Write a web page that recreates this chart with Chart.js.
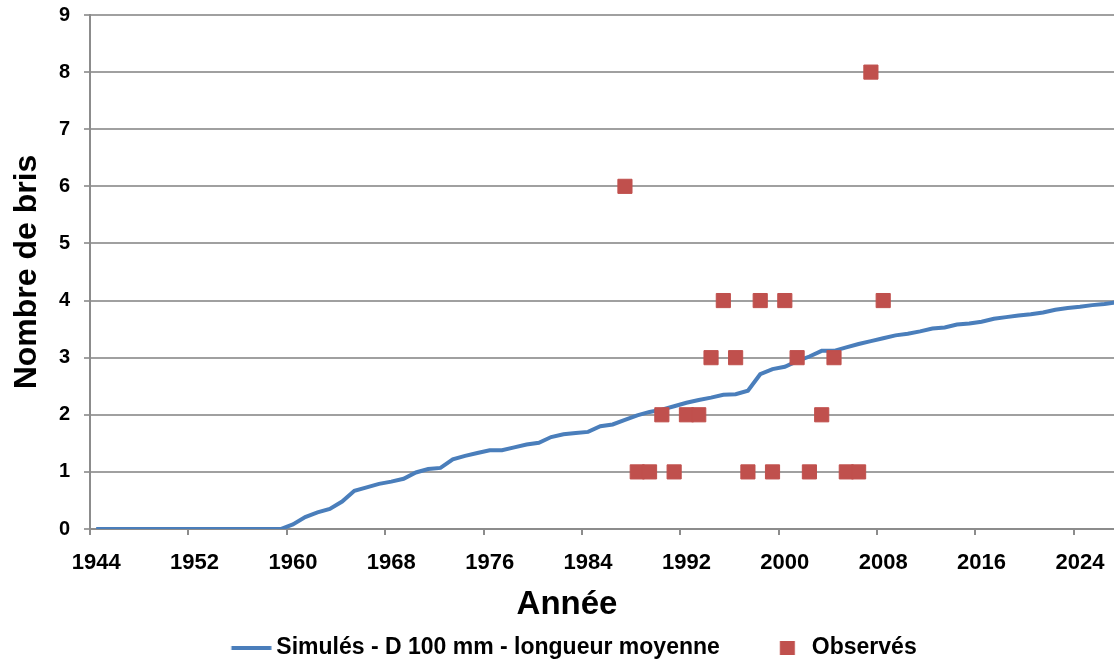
<!DOCTYPE html>
<html>
<head>
<meta charset="utf-8">
<script src="https://cdn.jsdelivr.net/npm/chart.js@4/dist/chart.umd.min.js"></script>
<style>
  html, body { margin: 0; padding: 0; overflow: hidden; background: #fff; }
  #wrap { width: 1134px; height: 661px; }
</style>
</head>
<body>
<div id="wrap"><canvas id="brisChart"></canvas></div>
<script>
// Years (categories) shown on the x axis
const years = [
  1944, 1945, 1946, 1947, 1948, 1949, 1950, 1951, 1952, 1953, 1954, 1955, 1956, 1957,
  1958, 1959, 1960, 1961, 1962, 1963, 1964, 1965, 1966, 1967, 1968, 1969, 1970, 1971,
  1972, 1973, 1974, 1975, 1976, 1977, 1978, 1979, 1980, 1981, 1982, 1983, 1984, 1985,
  1986, 1987, 1988, 1989, 1990, 1991, 1992, 1993, 1994, 1995, 1996, 1997, 1998, 1999,
  2000, 2001, 2002, 2003, 2004, 2005, 2006, 2007, 2008, 2009, 2010, 2011, 2012, 2013,
  2014, 2015, 2016, 2017, 2018, 2019, 2020, 2021, 2022, 2023, 2024, 2025, 2026, 2027
];

// Simulated breaks, one value per year above
const simules = [
  0, 0, 0, 0, 0, 0, 0, 0, 0, 0, 0, 0, 0, 0, 0, 0,
  0.08, 0.21, 0.29, 0.35, 0.48, 0.67, 0.73, 0.79, 0.83, 0.88,
  0.99, 1.05, 1.07, 1.22, 1.28, 1.33, 1.38, 1.38, 1.43, 1.48,
  1.51, 1.61, 1.66, 1.68, 1.70, 1.80, 1.83, 1.91, 1.99, 2.05,
  2.09, 2.15, 2.21, 2.26, 2.30, 2.35, 2.36, 2.42, 2.71, 2.80,
  2.84, 2.94, 3.02, 3.12, 3.12, 3.18, 3.24, 3.29, 3.34, 3.39,
  3.42, 3.46, 3.51, 3.53, 3.58, 3.60, 3.63, 3.68, 3.71, 3.74,
  3.76, 3.79, 3.84, 3.87, 3.89, 3.92, 3.94, 3.97
];

// Observed breaks
const obsYears = [1987, 1988, 1989, 1990, 1991, 1992, 1993, 1994, 1995, 1996, 1997,
                  1998, 1999, 2000, 2001, 2002, 2003, 2004, 2005, 2006, 2007, 2008];
const obsValues = [6, 1, 1, 2, 1, 2, 2, 3, 4, 3, 1, 4, 1, 4, 3, 1, 2, 3, 1, 1, 8, 4];

const yTicks = [0, 1, 2, 3, 4, 5, 6, 7, 8, 9];
const xLabelEvery = 8;

const FONT = "'Liberation Sans', Arial, sans-serif";
const BLUE = '#4A7EBB';
const RED = '#C0504D';
const GRID = '#A0A0A0';
const AXIS = '#8C8C8C';
const LEGEND_BOX = 71.5;

// align observed values on the year categories
const observes = years.map(y => {
  const k = obsYears.indexOf(y);
  return k < 0 ? null : obsValues[k];
});

// legend marker drawn inside a canvas twice the legend box width,
// so the mark can sit anywhere inside the box (x0..x1 from box start)
function makeMarker(x0, x1, h, color) {
  const c = document.createElement('canvas');
  c.width = LEGEND_BOX * 2;
  c.height = h;
  const g = c.getContext('2d');
  g.fillStyle = color;
  g.fillRect(x0 + LEGEND_BOX / 2, 0, x1 - x0, h);
  return c;
}
const legendMarkers = [makeMarker(38, 78, 4, BLUE), makeMarker(51, 66, 14, RED)];

// legend a bit shorter than Chart.js computes, and centred a little more to the left
const legendFit = {
  id: 'legendFit',
  beforeInit(chart) {
    const fit = chart.legend.fit;
    chart.legend.fit = function () {
      fit.call(this);
      this.height -= 8;
    };
  },
  afterLayout(chart) {
    chart.legend.left -= 12;
    chart.legend.right -= 12;
  }
};

const ctx = document.getElementById('brisChart').getContext('2d');
new Chart(ctx, {
  type: 'line',
  data: {
    labels: years,
    datasets: [
      {
        label: 'Simulés - D 100 mm - longueur moyenne',
        data: simules,
        borderColor: BLUE,
        backgroundColor: BLUE,
        borderWidth: 4,
        pointRadius: 0,
        tension: 0,
        fill: false,
        order: 1
      },
      {
        label: 'Observés',
        data: observes,
        showLine: false,
        pointStyle: 'rect',
        pointRadius: 10,
        pointBorderWidth: 1,
        pointBackgroundColor: RED,
        pointBorderColor: RED,
        backgroundColor: RED,
        borderColor: RED,
        order: 0
      }
    ]
  },
  plugins: [legendFit],
  options: {
    responsive: true,
    maintainAspectRatio: false,
    animation: false,
    layout: { padding: { top: 15, right: 0, bottom: 0, left: 0 } },
    plugins: {
      tooltip: { enabled: false },
      title: {
        display: true,
        text: 'Année',
        position: 'bottom',
        weight: 500,
        color: '#000',
        font: { family: FONT, size: 33, weight: 'bold' },
        padding: { top: 6, bottom: 2.4 }
      },
      legend: {
        position: 'bottom',
        labels: {
          usePointStyle: true,
          pointStyleWidth: LEGEND_BOX,
          color: '#000',
          padding: 9,
          font: { family: FONT, size: 23, weight: 'bold' },
          generateLabels: chart => chart.data.datasets.map((ds, i) => ({
            text: ds.label,
            pointStyle: legendMarkers[i],
            datasetIndex: i,
            fontColor: '#000',
            fillStyle: 'transparent',
            strokeStyle: 'transparent',
            lineWidth: 0,
            hidden: false
          }))
        }
      }
    },
    scales: {
      x: {
        type: 'category',
        offset: true,
        afterFit: scale => { scale.height = 50; },
        grid: {
          offset: true,
          drawOnChartArea: false,
          drawTicks: true,
          tickLength: 6,
          lineWidth: 2,
          color: c => (c.index % xLabelEvery === 0 ? AXIS : 'transparent')
        },
        border: { color: AXIS, width: 2 },
        ticks: {
          autoSkip: false,
          maxRotation: 0,
          padding: 15,
          color: '#000',
          font: { family: FONT, size: 22, weight: 'bold' },
          callback: (v, i) => (i % xLabelEvery === 0 ? String(years[i]) : '')
        }
      },
      y: {
        min: yTicks[0],
        max: yTicks[yTicks.length - 1],
        afterFit: scale => {
          scale.width = 90;
          scale.paddingTop = 0;
          scale.paddingBottom = 0;
        },
        afterBuildTicks: scale => { scale.ticks = yTicks.map(v => ({ value: v })); },
        grid: { color: GRID, lineWidth: 2, tickLength: 6 },
        border: { color: AXIS, width: 2 },
        ticks: {
          padding: 14,
          color: '#000',
          font: { family: FONT, size: 20, weight: 'bold' }
        },
        title: {
          display: true,
          text: 'Nombre de bris',
          color: '#000',
          padding: { top: 8, bottom: 0 },
          font: { family: FONT, size: 32, weight: 'bold' }
        }
      }
    }
  }
});
</script>
</body>
</html>
